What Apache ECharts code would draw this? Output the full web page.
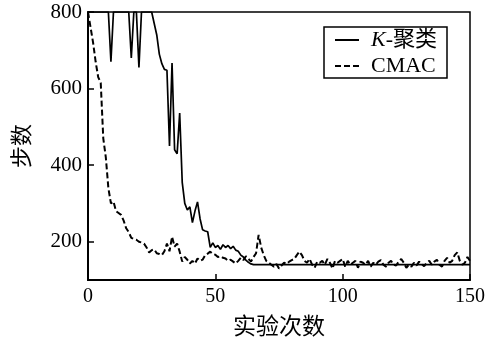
<!DOCTYPE html>
<html>
<head>
<meta charset="utf-8">
<script src="https://cdn.jsdelivr.net/npm/echarts@6/dist/echarts.min.js"></script>
<style>
  html, body { margin: 0; padding: 0; background: #fff; }
  #chart { width: 495px; height: 344px; }
</style>
</head>
<body>
<div id="chart"></div>
<script>
// steps per trial, trial index = position in array (0..150)
const kMeansSteps = [
  800, 800, 800, 800, 800, 800, 800, 800, 800, 670,
  800, 800, 800, 800, 800, 800, 800, 680, 800, 800,
  655, 800, 800, 800, 800, 800, 770, 740, 690, 665,
  650, 648, 450, 667, 440, 430, 536, 355, 300, 283,
  291, 250, 280, 304, 260, 231, 228, 226, 185, 197,
  185, 190, 180, 192, 185, 190, 182, 188, 178, 175,
  165, 160, 152, 146, 142, 140, 140, 140, 140, 140,
  140, 140, 140, 140, 140, 140, 140, 140, 140, 140,
  140, 140, 140, 140, 140, 140, 140, 140, 140, 140,
  140, 140, 140, 140, 140, 140, 140, 140, 140, 140,
  140, 140, 140, 140, 140, 140, 140, 140, 140, 140,
  140, 140, 140, 140, 140, 140, 140, 140, 140, 140,
  140, 140, 140, 140, 140, 140, 140, 140, 140, 140,
  140, 140, 140, 140, 140, 140, 140, 140, 140, 140,
  140, 140, 140, 140, 140, 140, 140, 140, 140, 140,
  140
];

const cmacSteps = [
  800, 760, 720, 670, 630, 615, 470, 420, 340, 300,
  305, 280, 275, 270, 255, 235, 225, 210, 207, 205,
  200, 198, 195, 185, 172, 178, 180, 170, 168, 165,
  175, 195, 175, 213, 187, 195, 174, 148, 160, 153,
  143, 150, 143, 156, 150, 153, 165, 169, 174, 168,
  166, 160, 162, 158, 156, 150, 153, 148, 143, 150,
  158, 152, 162, 155, 148, 160, 170, 218, 185, 165,
  150, 145, 140, 135, 142, 130, 138, 145, 142, 148,
  152, 155, 165, 174, 165, 150, 145, 155, 140, 132,
  148, 145, 150, 140, 155, 145, 130, 150, 145, 150,
  155, 135, 150, 140, 145, 150, 132, 148, 145, 140,
  150, 135, 145, 140, 148, 152, 140, 135, 145, 150,
  140, 138, 148, 155, 145, 132, 140, 135, 145, 138,
  148, 142, 136, 145, 150, 140, 148, 153, 140, 135,
  150, 158, 145, 150, 165, 172, 150, 140, 145, 160,
  150
];

const xTicks = [0, 50, 100, 150];
const yTicks = [200, 400, 600, 800];

const serif = '"Liberation Serif", "Noto Sans CJK SC", serif';

const toPoints = arr => arr.map((v, i) => [i, v]);

const chart = echarts.init(document.getElementById('chart'));

chart.setOption({
  animation: false,
  backgroundColor: '#fff',
  grid: {
    left: 88,
    right: 25,
    top: 12,
    bottom: 63,
    show: true,
    borderColor: '#000',
    borderWidth: 1.5
  },
  legend: {
    orient: 'vertical',
    left: 324,
    top: 27,
    padding: [2, 10, 1, 10],
    itemGap: 4,
    itemWidth: 24,
    itemHeight: 14,
    borderColor: '#000',
    borderWidth: 1.5,
    // hide the symbol, keep only the line sample
    itemStyle: { color: 'transparent', borderColor: 'transparent', borderWidth: 0, opacity: 0 },
    textStyle: {
      fontFamily: serif,
      fontSize: 22,
      color: '#000',
      rich: {
        i: { fontFamily: serif, fontSize: 22, fontStyle: 'italic', color: '#000', lineHeight: 23, padding: [0, 0, 0, 7] },
        t: { fontFamily: serif, fontSize: 22, color: '#000', lineHeight: 23 },
        c: { fontFamily: serif, fontSize: 22, color: '#000', lineHeight: 23, padding: [0, 0, 0, 7] }
      }
    },
    formatter: name => name === 'K-聚类' ? '{i|K}{t|-聚类}' : '{c|' + name + '}',
    data: ['K-聚类', 'CMAC']
  },
  xAxis: {
    type: 'value',
    min: 0,
    max: 150,
    interval: 50,
    name: '实验次数',
    nameLocation: 'middle',
    nameGap: 36,
    nameTextStyle: { fontFamily: serif, fontSize: 23, color: '#000' },
    axisLine: { lineStyle: { color: '#000', width: 2 } },
    axisTick: { inside: true, length: 6, lineStyle: { color: '#000', width: 1.5 }, customValues: xTicks },
    axisLabel: { fontFamily: serif, fontSize: 20, color: '#000', margin: 7, customValues: xTicks },
    splitLine: { show: false }
  },
  yAxis: {
    type: 'value',
    min: 100,
    max: 800,
    interval: 100,
    name: '步数',
    nameLocation: 'middle',
    nameGap: 54,
    nameTextStyle: { fontFamily: serif, fontSize: 22, color: '#000' },
    axisLine: { show: true, lineStyle: { color: '#000', width: 2 } },
    axisTick: { show: true, inside: true, length: 6, lineStyle: { color: '#000', width: 1.5 }, customValues: yTicks },
    axisLabel: { fontFamily: serif, fontSize: 21, color: '#000', margin: 6, customValues: yTicks },
    splitLine: { show: false }
  },
  series: [
    {
      name: 'K-聚类',
      type: 'line',
      data: toPoints(kMeansSteps),
      symbol: 'none',
      clip: true,
      lineStyle: { color: '#000', width: 1.7 },
      itemStyle: { color: '#000' }
    },
    {
      name: 'CMAC',
      type: 'line',
      data: toPoints(cmacSteps),
      symbol: 'none',
      clip: true,
      lineStyle: { color: '#000', width: 2, type: [6, 3] },
      itemStyle: { color: '#000' }
    }
  ]
});
</script>
</body>
</html>
